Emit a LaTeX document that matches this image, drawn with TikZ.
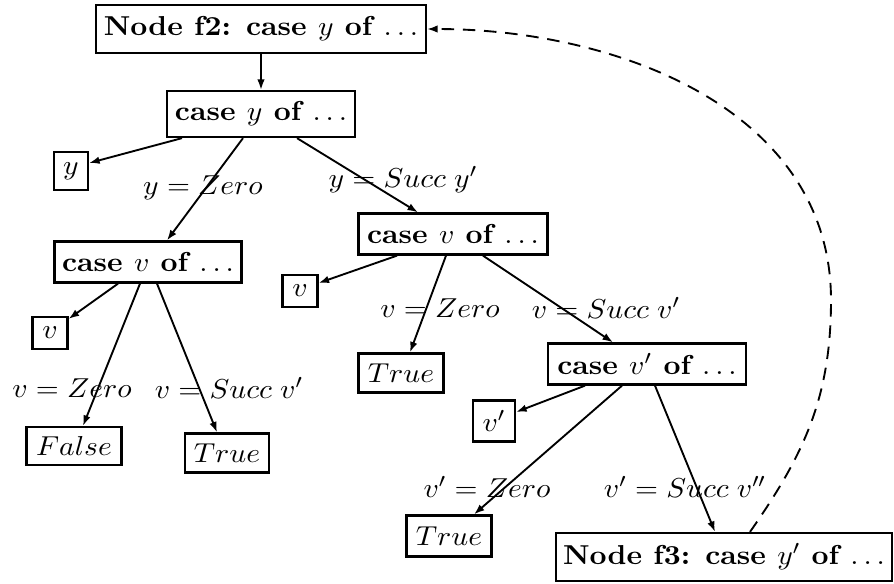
\documentclass[tikz,border=0pt]{standalone}
\usepackage{graphicx}
\usetikzlibrary{arrows.meta}
\newcommand{\sxt}[1]{\scalebox{1.08}[1]{\fontsize{10.95}{13}\selectfont #1}}
\begin{document}
\begin{tikzpicture}[x=0.4pt,y=-0.4pt,
  box/.style={draw,line width=0.9pt,inner sep=0pt,anchor=center},
  edge/.style={line width=0.75pt,-{Latex[length=4.2pt,width=3pt]}},
  lbl/.style={inner sep=0pt}]
\useasboundingbox (0,0) rectangle (894,583);
% boxes
\node[box,minimum width=132pt,minimum height=19.2pt] (top) at (261,29) {\sxt{\textbf{Node f2: case $y$ of $\ldots$}}};
\node[box,minimum width=75.2pt,minimum height=18.4pt] (cy) at (261,114) {\sxt{\textbf{case $y$ of $\ldots$}}};
\node[box,minimum width=13.6pt,minimum height=15.2pt] (yb) at (71,171) {\sxt{$y$}};
\node[box,minimum width=74.8pt,minimum height=16.4pt] (cvl) at (148,262) {\sxt{\textbf{case $v$ of $\ldots$}}};
\node[box,minimum width=14pt,minimum height=12.8pt] (vl) at (50,333) {\sxt{$v$}};
\node[box,minimum width=38pt,minimum height=15.2pt] (fa) at (74,446) {\sxt{$False$}};
\node[box,minimum width=33.6pt,minimum height=15.6pt] (tl) at (227,453) {\sxt{$True$}};
\node[box,minimum width=75.6pt,minimum height=16.4pt] (cvr) at (453,234) {\sxt{\textbf{case $v$ of $\ldots$}}};
\node[box,minimum width=14pt,minimum height=12.8pt] (vr) at (300,291) {\sxt{$v$}};
\node[box,minimum width=34pt,minimum height=15.6pt] (tm) at (401,373) {\sxt{$True$}};
\node[box,minimum width=79.2pt,minimum height=16.4pt] (cvp) at (647,364) {\sxt{\textbf{case $v'$ of $\ldots$}}};
\node[box,minimum width=16.8pt,minimum height=16.4pt] (vp) at (494,421) {\sxt{$v'$}};
\node[box,minimum width=34pt,minimum height=16.4pt] (tb) at (449,536) {\sxt{$True$}};
\node[box,minimum width=134.4pt,minimum height=19.2pt] (f3) at (724,557) {\sxt{\textbf{Node f3: case $y'$ of $\ldots$}}};
% labels
\node[lbl] (l1) at (203,188) {\sxt{$y = Zero$}};
\node[lbl] (l2) at (403,180) {\sxt{$y = Succ\;y'$}};
\node[lbl] (l3) at (72,388) {\sxt{$v = Zero$}};
\node[lbl] (l4) at (229,388) {\sxt{$v = Succ\;v'$}};
\node[lbl] (l5) at (440,308) {\sxt{$v = Zero$}};
\node[lbl] (l6) at (606,308) {\sxt{$v = Succ\;v'$}};
\node[lbl] (l7) at (487,487) {\sxt{$v' = Zero$}};
\node[lbl] (l8) at (685,487) {\sxt{$v' = Succ\;v''$}};
% edges
\draw[edge] (top.south) -- (cy.north);
\draw[edge] ([xshift=-31.6pt]cy.south) -- ([yshift=3.2pt]yb.east);
\draw[edge] ([xshift=-7.2pt]cy.south) -- ([xshift=7.6pt]cvl.north);
\draw[edge] ([xshift=14.4pt]cy.south) -- ([xshift=-14pt]cvr.north);
\draw[edge] ([xshift=-12pt]cvl.south) -- ([yshift=-1.2pt]vl.north east);
\draw[edge] ([xshift=-3.2pt]cvl.south) -- ([xshift=3.6pt]fa.north);
\draw[edge] ([xshift=3.6pt]cvl.south) -- ([xshift=-4pt]tl.north);
\draw[edge] ([xshift=-22.4pt]cvr.south) -- ([yshift=3.2pt]vr.east);
\draw[edge] ([xshift=-2.8pt]cvr.south) -- ([xshift=3.6pt]tm.north);
\draw[edge] ([xshift=12pt]cvr.south) -- ([xshift=-13.6pt]cvp.north);
\draw[edge] ([xshift=-24.8pt]cvp.south) -- ([yshift=3.6pt]vp.east);
\draw[edge] ([xshift=-10pt]cvp.south) -- ([xshift=10pt]tb.north);
\draw[edge] ([xshift=3.2pt]cvp.south) -- ([xshift=-3.6pt]f3.north);
\coordinate (bend) at (831,300);
\draw[edge,dashed,dash pattern=on 5pt off 3.5pt] ([xshift=10.4pt]f3.north) to[out=55,in=-90] (bend) to[out=90,in=0] (top.east);
\end{tikzpicture}
\end{document}
